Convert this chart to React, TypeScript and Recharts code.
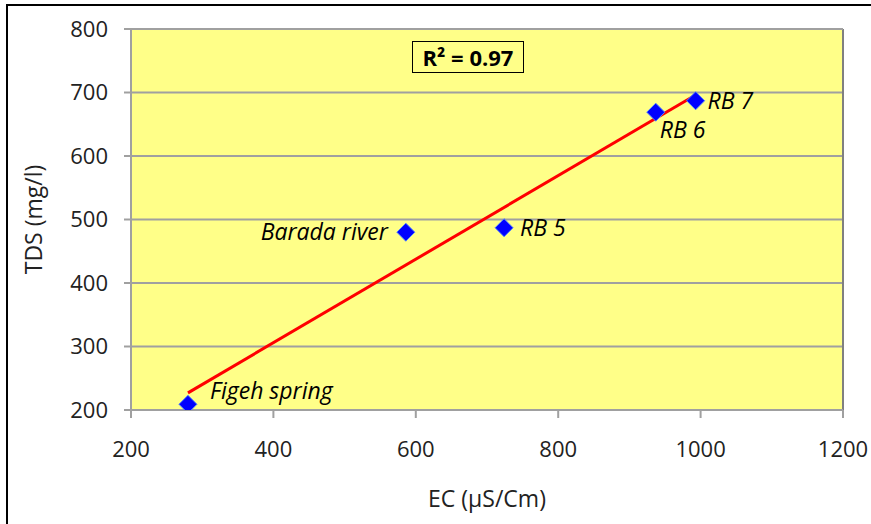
import React from 'react';
import { ScatterChart, Scatter, XAxis, YAxis, CartesianGrid, ReferenceLine } from 'recharts';

const siteNames = ['Figeh spring', 'Barada river', 'RB 5', 'RB 6', 'RB 7'];
const ecValues = [280, 586, 724, 937, 993];
const tdsValues = [209, 480, 487, 669, 687];
const trendEc = [280, 993];
const trendTds = [227, 696];
const xTicks = [200, 400, 600, 800, 1000, 1200];
const yTicks = [200, 300, 400, 500, 600, 700, 800];
const rSquaredText = 'R² = 0.97';

const points = siteNames.map((name, i) => ({ name, x: ecValues[i], y: tdsValues[i] }));
const trend = trendEc.map((x, i) => ({ x, y: trendTds[i] }));

const labelStyle: Record<string, { dx: number; dy: number; anchor: 'start' | 'end' }> = {
  'Figeh spring': { dx: 22, dy: -11, anchor: 'start' },
  'Barada river': { dx: -18, dy: 2, anchor: 'end' },
  'RB 5': { dx: 16, dy: 2, anchor: 'start' },
  'RB 6': { dx: 4, dy: 20, anchor: 'start' },
  'RB 7': { dx: 12, dy: 2, anchor: 'start' },
};

const FONT = '"Open Sans", sans-serif';

const Diamond = (props: any) => {
  const { cx, cy, payload } = props;
  if (cx == null || cy == null) return null;
  const r = 9;
  const ls = labelStyle[payload.name];
  return (
    <g>
      <polygon
        points={`${cx},${cy - r} ${cx + r},${cy} ${cx},${cy + r} ${cx - r},${cy}`}
        fill="#0000FF"
        stroke="#4F81FF"
        strokeWidth={1}
      />
      <text
        x={cx + ls.dx}
        y={cy + ls.dy}
        textAnchor={ls.anchor}
        dominantBaseline="middle"
        fontFamily={FONT}
        fontStyle="italic"
        fontSize={23}
        fill="#000"
      >
        {payload.name}
      </text>
    </g>
  );
};

export default function App() {
  return (
    <div style={{ position: 'absolute', left: 0, top: 0, width: 871, height: 524, background: '#fff', overflow: 'hidden' }}>
      <div
        style={{
          position: 'absolute',
          left: 6,
          top: 4,
          width: 900,
          height: 600,
          borderLeft: '2.5px solid #000',
          borderTop: '2.5px solid #000',
        }}
      />
      <div style={{ position: 'absolute', left: 0, top: 0 }}>
        <ScatterChart width={871} height={524} margin={{ top: 29, right: 28, left: 0, bottom: 0 }}>
          <CartesianGrid horizontal vertical={false} fill="#FFFF88" stroke="#A0A0A0" strokeWidth={2} />
          <XAxis
            type="number"
            dataKey="x"
            domain={[200, 1200]}
            ticks={xTicks}
            allowDataOverflow
            height={114}
            stroke="#A0A0A0"
            strokeWidth={2}
            tickSize={8}
            tickMargin={23}
            tick={{ fill: '#222', fontSize: 22, fontFamily: FONT }}
            label={{ value: 'EC (µS/Cm)', position: 'insideBottom', offset: 17, fill: '#222', fontSize: 23, fontFamily: FONT }}
          />
          <YAxis
            type="number"
            dataKey="y"
            domain={[200, 800]}
            ticks={yTicks}
            allowDataOverflow
            width={131}
            stroke="#A0A0A0"
            strokeWidth={2}
            tickSize={7}
            tickMargin={16}
            tick={{ fill: '#222', fontSize: 22, fontFamily: FONT }}
            label={{ value: 'TDS (mg/l)', angle: -90, position: 'insideLeft', offset: 34, fill: '#222', fontSize: 23, fontFamily: FONT, style: { textAnchor: 'middle' } }}
          />
          <ReferenceLine x={1200} stroke="#808080" strokeWidth={2} />
          <ReferenceLine y={800} stroke="#A0A0A0" strokeWidth={2} />
          <Scatter
            data={trend}
            line={{ stroke: '#FF0000', strokeWidth: 3 }}
            shape={() => null}
            isAnimationActive={false}
          />
          <Scatter data={points} shape={<Diamond />} isAnimationActive={false} />
        </ScatterChart>
      </div>
      <div
        style={{
          position: 'absolute',
          left: 412,
          top: 41,
          width: 110,
          height: 30,
          border: '1.5px solid #000',
          background: '#FFFF88',
          fontFamily: FONT,
          fontWeight: 700,
          fontSize: 22,
          lineHeight: '30px',
          textAlign: 'center',
          color: '#000',
        }}
      >
        {rSquaredText}
      </div>
    </div>
  );
}
